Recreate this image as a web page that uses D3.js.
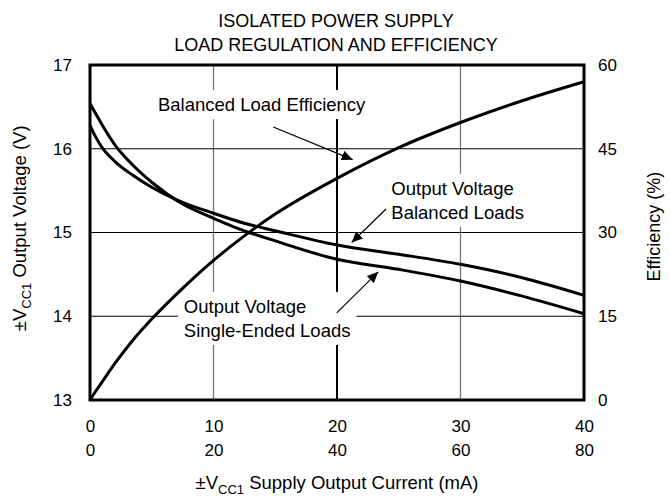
<!DOCTYPE html>
<html>
<head>
<meta charset="utf-8">
<script src="https://cdn.jsdelivr.net/npm/d3@7"></script>
<style>
  body { margin: 0; background: #fff; }
  svg { display: block; font-family: Arial, "Liberation Sans", Helvetica, sans-serif; }
</style>
</head>
<body>
<div id="chart"></div>
<script>
// supply output current (mA), balanced-load scale
const current = [0, 0.5, 1, 2, 3.5, 5, 7.5, 10, 12.5, 15, 20, 25, 30, 35, 40];
// output voltage, single-ended loads (V)
const singleEnded = [16.54, 16.41, 16.28, 16.05, 15.8, 15.6, 15.34, 15.17, 15.02, 14.9, 14.68, 14.56, 14.42, 14.24, 14.03];
// output voltage, balanced loads (V)
const balanced = [16.28, 16.13, 16.01, 15.85, 15.68, 15.54, 15.36, 15.23, 15.11, 15.02, 14.85, 14.74, 14.62, 14.46, 14.25];
// balanced load efficiency (%)
const efficiency = [0, 1.7, 3.3, 6.5, 10.8, 14.5, 20, 25, 29.4, 33.3, 39.7, 45.2, 49.7, 53.6, 57];

const xTicks = [0, 10, 20, 30, 40];
const xTicks2 = [0, 20, 40, 60, 80];
const voltTicks = [13, 14, 15, 16, 17];
const effTicks = [0, 15, 30, 45, 60];

const width = 670, height = 496;
const margin = {top: 65, right: 86, bottom: 96, left: 90};

const svg = d3.select("#chart").append("svg")
  .attr("width", width)
  .attr("height", height);

const x = d3.scaleLinear().domain([0, 40]).range([margin.left, width - margin.right]);
const x2 = d3.scaleLinear().domain([0, 80]).range([margin.left, width - margin.right]);
const yV = d3.scaleLinear().domain([13, 17]).range([height - margin.bottom, margin.top]);
const yE = d3.scaleLinear().domain([0, 60]).range([height - margin.bottom, margin.top]);

// title
svg.append("text")
  .attr("x", 336).attr("y", 27)
  .attr("text-anchor", "middle")
  .attr("font-size", 18)
  .text("ISOLATED POWER SUPPLY");
svg.append("text")
  .attr("x", 336).attr("y", 51)
  .attr("text-anchor", "middle")
  .attr("font-size", 18)
  .text("LOAD REGULATION AND EFFICIENCY");

// grid
const grid = svg.append("g");
[10, 30].forEach(v => {
  grid.append("line")
    .attr("x1", x(v)).attr("x2", x(v))
    .attr("y1", yV(13)).attr("y2", yV(17))
    .attr("stroke", "#777").attr("stroke-width", 1.3);
});
grid.append("line")
  .attr("x1", x(20)).attr("x2", x(20))
  .attr("y1", yV(13)).attr("y2", yV(17))
  .attr("stroke", "#000").attr("stroke-width", 2);
[14, 15, 16].forEach(v => {
  grid.append("line")
    .attr("x1", x(0)).attr("x2", x(40))
    .attr("y1", yV(v)).attr("y2", yV(v))
    .attr("stroke", "#000").attr("stroke-width", 1);
});

// annotation labels, with white boxes that cut the grid
const labels = [
  {lines: ["Balanced Load Efficiency"], x: 5.5, y: 16.45},
  {lines: ["Output Voltage", "Balanced Loads"], x: 24.4, y: 15.45},
  {lines: ["Output Voltage", "Single-Ended Loads"], x: 7.6, y: 14.04}
];
const labelG = svg.append("g");
labels.forEach(l => {
  const g = labelG.append("g");
  const rect = g.append("rect").attr("fill", "#fff");
  const t = g.append("text")
    .attr("font-size", 18.5)
    .attr("x", x(l.x))
    .attr("y", yV(l.y));
  l.lines.forEach((s, i) => {
    t.append("tspan")
      .attr("x", x(l.x))
      .attr("dy", i === 0 ? 0 : 24)
      .text(s);
  });
  const bb = t.node().getBBox();
  rect.attr("x", bb.x - 6).attr("y", bb.y - 4)
    .attr("width", bb.width + 12).attr("height", bb.height + 8);
});

// curves
const line = (vals, ys) => d3.line()
  .x((d, i) => x(current[i]))
  .y(d => ys(d))
  .curve(d3.curveMonotoneX)(vals);

svg.append("path").attr("d", line(singleEnded, yV))
  .attr("fill", "none").attr("stroke", "#000").attr("stroke-width", 3);
svg.append("path").attr("d", line(balanced, yV))
  .attr("fill", "none").attr("stroke", "#000").attr("stroke-width", 3);
svg.append("path").attr("d", line(efficiency, yE))
  .attr("fill", "none").attr("stroke", "#000").attr("stroke-width", 3);

// frame
svg.append("rect")
  .attr("x", x(0)).attr("y", yV(17))
  .attr("width", x(40) - x(0)).attr("height", yV(13) - yV(17))
  .attr("fill", "none").attr("stroke", "#000").attr("stroke-width", 3);

// arrows
svg.append("defs").append("marker")
  .attr("id", "head")
  .attr("viewBox", "0 0 10 10")
  .attr("refX", 10).attr("refY", 5)
  .attr("markerWidth", 11).attr("markerHeight", 11)
  .attr("markerUnits", "userSpaceOnUse")
  .attr("orient", "auto")
  .append("path").attr("d", "M0,0.5L10,5L0,9.5Z").attr("fill", "#000");

const arrows = [
  {from: [14.84, 16.26], to: [21.27, 15.87]},
  {from: [23.97, 15.28], to: [21.19, 14.88]},
  {from: [19.98, 14.04], to: [23.34, 14.53]}
];
arrows.forEach(a => {
  svg.append("line")
    .attr("x1", x(a.from[0])).attr("y1", yV(a.from[1]))
    .attr("x2", x(a.to[0])).attr("y2", yV(a.to[1]))
    .attr("stroke", "#000").attr("stroke-width", 1.2)
    .attr("marker-end", "url(#head)");
});

// axes
const axisFont = g => g.attr("font-size", 17).attr("font-family", null)
  .call(g => g.select(".domain").remove())
  .call(g => g.selectAll("text").attr("fill", "#000"));

svg.append("g")
  .attr("transform", `translate(${margin.left},0)`)
  .call(d3.axisLeft(yV).tickValues(voltTicks).tickFormat(d3.format("d")).tickSize(0).tickPadding(18))
  .call(axisFont);

svg.append("g")
  .attr("transform", `translate(${width - margin.right},0)`)
  .call(d3.axisRight(yE).tickValues(effTicks).tickFormat(d3.format("d")).tickSize(0).tickPadding(14))
  .call(axisFont);

svg.append("g")
  .attr("transform", `translate(0,${height - margin.bottom})`)
  .call(d3.axisBottom(x).tickValues(xTicks).tickFormat(d3.format("d")).tickSize(0).tickPadding(20))
  .call(axisFont);

svg.append("g")
  .attr("transform", `translate(0,${height - margin.bottom + 24})`)
  .call(d3.axisBottom(x2).tickValues(xTicks2).tickFormat(d3.format("d")).tickSize(0).tickPadding(20))
  .call(axisFont);

// axis titles
const xTitle = svg.append("text")
  .attr("x", 337).attr("y", 489)
  .attr("text-anchor", "middle")
  .attr("font-size", 18.5);
xTitle.append("tspan").text("±V");
xTitle.append("tspan").attr("font-size", 13).attr("dy", 5).text("CC1");
xTitle.append("tspan").attr("dy", -5).text("  Supply Output Current (mA)");

const yTitle = svg.append("text")
  .attr("transform", `translate(26,${yV(15.05)}) rotate(-90)`)
  .attr("text-anchor", "middle")
  .attr("font-size", 18.5);
yTitle.append("tspan").text("±V");
yTitle.append("tspan").attr("font-size", 13).attr("dy", 5).text("CC1");
yTitle.append("tspan").attr("dy", -5).text("  Output Voltage (V)");

svg.append("text")
  .attr("transform", `translate(660,${yV(15.07)}) rotate(-90)`)
  .attr("text-anchor", "middle")
  .attr("font-size", 18)
  .text("Efficiency (%)");
</script>
</body>
</html>
